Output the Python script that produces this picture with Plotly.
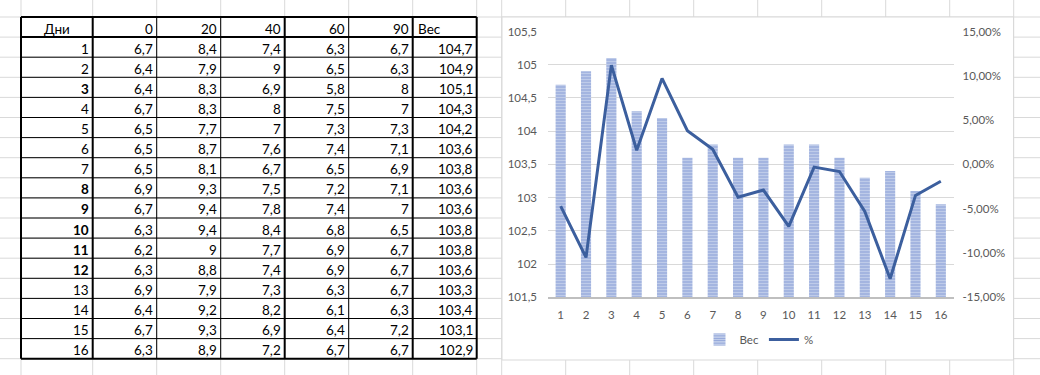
import plotly.graph_objects as go

# ---------------- data ----------------
days = list(range(1, 17))
headers = ["Дни", "0", "20", "40", "60", "90", "Вес"]
c0 = [6.7, 6.4, 6.4, 6.7, 6.5, 6.5, 6.5, 6.9, 6.7, 6.3, 6.2, 6.3, 6.9, 6.4, 6.7, 6.3]
c20 = [8.4, 7.9, 8.3, 8.3, 7.7, 8.7, 8.1, 9.3, 9.4, 9.4, 9, 8.8, 7.9, 9.2, 9.3, 8.9]
c40 = [7.4, 9, 6.9, 8, 7, 7.6, 6.7, 7.5, 7.8, 8.4, 7.7, 7.4, 7.3, 8.2, 6.9, 7.2]
c60 = [6.3, 6.5, 5.8, 7.5, 7.3, 7.4, 6.5, 7.2, 7.4, 6.8, 6.9, 6.9, 6.3, 6.1, 6.4, 6.7]
c90 = [6.7, 6.3, 8, 7, 7.3, 7.1, 6.9, 7.1, 7, 6.5, 6.7, 6.7, 6.7, 6.3, 7.2, 6.7]
weight = [104.7, 104.9, 105.1, 104.3, 104.2, 103.6, 103.8, 103.6, 103.6, 103.8,
          103.8, 103.6, 103.3, 103.4, 103.1, 102.9]
pct = [-0.047, -0.105, 0.112, 0.016, 0.097, 0.038, 0.017, -0.037, -0.029, -0.070,
       -0.003, -0.008, -0.053, -0.129, -0.035, -0.019]
pct_tick_vals = [-0.15, -0.10, -0.05, 0.0, 0.05, 0.10, 0.15]
pct_tick_text = ["-15,00%", "-10,00%", "-5,00%", "0,00%", "5,00%", "10,00%", "15,00%"]
bold_days = {3, 8, 9, 10, 11, 12}

# ---------------- layout helpers ----------------
W, H = 1040, 375


def px(x):
    return x / W


def py(y):
    return 1 - y / H


def fmt(v):
    return f"{v:g}".replace(".", ",")


col_x = [21, 92.7, 156.7, 220.7, 284.7, 348.7, 412.7, 476.7]
sheet_cols = col_x + [501.7, 565.7, 629.7, 693.7, 757.7, 821.7, 885.7, 949.7, 1013.7]
row_h = 20.1
row_y = [17 + row_h * k for k in range(18)]

shapes = []
GRID = "#d9d9d9"
for x in sheet_cols:
    shapes.append(dict(type="line", xref="paper", yref="paper", x0=px(x), x1=px(x),
                       y0=0, y1=1, line=dict(color=GRID, width=1), layer="below"))
for y in row_y:
    shapes.append(dict(type="line", xref="paper", yref="paper", x0=0, x1=1,
                       y0=py(y), y1=py(y), line=dict(color=GRID, width=1), layer="below"))
# chart area
shapes.append(dict(type="rect", xref="paper", yref="paper", x0=px(502), x1=px(1013.5),
                   y0=py(360), y1=py(17), fillcolor="white",
                   line=dict(color="#d9d9d9", width=1), layer="below"))

# table borders
thick_cols = {0, 1, 4, 6, 7}
for i, x in enumerate(col_x):
    shapes.append(dict(type="line", xref="paper", yref="paper", x0=px(x), x1=px(x),
                       y0=py(row_y[-1]), y1=py(row_y[0]),
                       line=dict(color="black", width=2 if i in thick_cols else 1)))
for k, y in enumerate(row_y):
    w = 2 if k in (0, 1, len(row_y) - 1) else 1
    shapes.append(dict(type="line", xref="paper", yref="paper", x0=px(col_x[0]), x1=px(col_x[-1]),
                       y0=py(y), y1=py(y), line=dict(color="black", width=w)))

annotations = []
TFONT = "Lato"
TSIZE = 13.5
# header row
hy = (row_y[0] + row_y[1]) / 2 + 1.5
annotations.append(dict(text=headers[0], x=px((col_x[0] + col_x[1]) / 2), y=py(hy),
                        xref="paper", yref="paper", xanchor="center", yanchor="middle",
                        showarrow=False, font=dict(family=TFONT, size=TSIZE, color="black")))
for j in range(1, 6):
    annotations.append(dict(text=headers[j], x=px(col_x[j + 1] - 2), y=py(hy),
                            xref="paper", yref="paper", xanchor="right", yanchor="middle",
                            showarrow=False, font=dict(family=TFONT, size=TSIZE, color="black")))
annotations.append(dict(text=headers[6], x=px(col_x[6] + 3), y=py(hy),
                        xref="paper", yref="paper", xanchor="left", yanchor="middle",
                        showarrow=False, font=dict(family=TFONT, size=TSIZE, color="black")))

cols = [c0, c20, c40, c60, c90, weight]
for i, d in enumerate(days):
    cy = (row_y[i + 1] + row_y[i + 2]) / 2 + 1.5
    dtext = f"<b>{d}</b>" if d in bold_days else str(d)
    annotations.append(dict(text=dtext, x=px(col_x[1] - 2), y=py(cy),
                            xref="paper", yref="paper", xanchor="right", yanchor="middle",
                            showarrow=False, font=dict(family=TFONT, size=TSIZE, color="black")))
    for j, col in enumerate(cols):
        annotations.append(dict(text=fmt(col[i]), x=px(col_x[j + 2] - 2), y=py(cy),
                                xref="paper", yref="paper", xanchor="right", yanchor="middle",
                                showarrow=False,
                                font=dict(family=TFONT, size=TSIZE, color="black")))

# ---------------- chart ----------------
cats = [str(d) for d in days]
fig = go.Figure()
fig.add_trace(go.Bar(
    x=cats, y=weight, name="Вес",
    marker=dict(color="#d0daf0", line=dict(width=0),
                pattern=dict(shape="-", fgcolor="#8a9fd6", bgcolor="#d0daf0",
                             size=3, solidity=0.5)),
    yaxis="y",
))
fig.add_trace(go.Scatter(
    x=cats, y=pct, name="%", mode="lines",
    line=dict(color="#3c5f9e", width=3),
    yaxis="y2",
))

TICKF = dict(family=TFONT, size=11.5, color="#595959")
fig.update_layout(
    template="none",
    width=W, height=H, autosize=False,
    margin=dict(l=0, r=0, t=0, b=0, pad=0, autoexpand=False),
    paper_bgcolor="white", plot_bgcolor="rgba(0,0,0,0)",
    separators=", ",
    bargap=0.6,
    shapes=shapes, annotations=annotations,
    xaxis=dict(domain=[px(548), px(953.5)], type="category", showgrid=False,
               showline=True, linecolor="#bfbfbf", linewidth=2, ticks="",
               tickfont=TICKF, ticklabelstandoff=6, anchor="y", automargin=False),
    yaxis=dict(domain=[py(297.3), py(31.5)], range=[101.5, 105.5], dtick=0.5,
               tick0=101.5, showgrid=True, gridcolor="#d9d9d9", gridwidth=1,
               zeroline=False, showline=False, tickfont=TICKF, ticks="",
               ticklabelstandoff=10, automargin=False),
    yaxis2=dict(overlaying="y", side="right", range=[-0.15, 0.15],
                tickmode="array", tickvals=pct_tick_vals, ticktext=pct_tick_text,
                showgrid=False, zeroline=False,
                showline=False, tickfont=TICKF, ticks="", anchor="x",
                ticklabelstandoff=8, automargin=False),
    legend=dict(orientation="h", x=px(759), y=py(339.5), xanchor="center",
                yanchor="middle", font=TICKF, bgcolor="rgba(0,0,0,0)",
                itemwidth=30, traceorder="normal"),
    font=dict(family=TFONT),
)

fig.write_html("out.html", config={"displayModeBar": False},
               post_script="document.body.style.margin='0';")
